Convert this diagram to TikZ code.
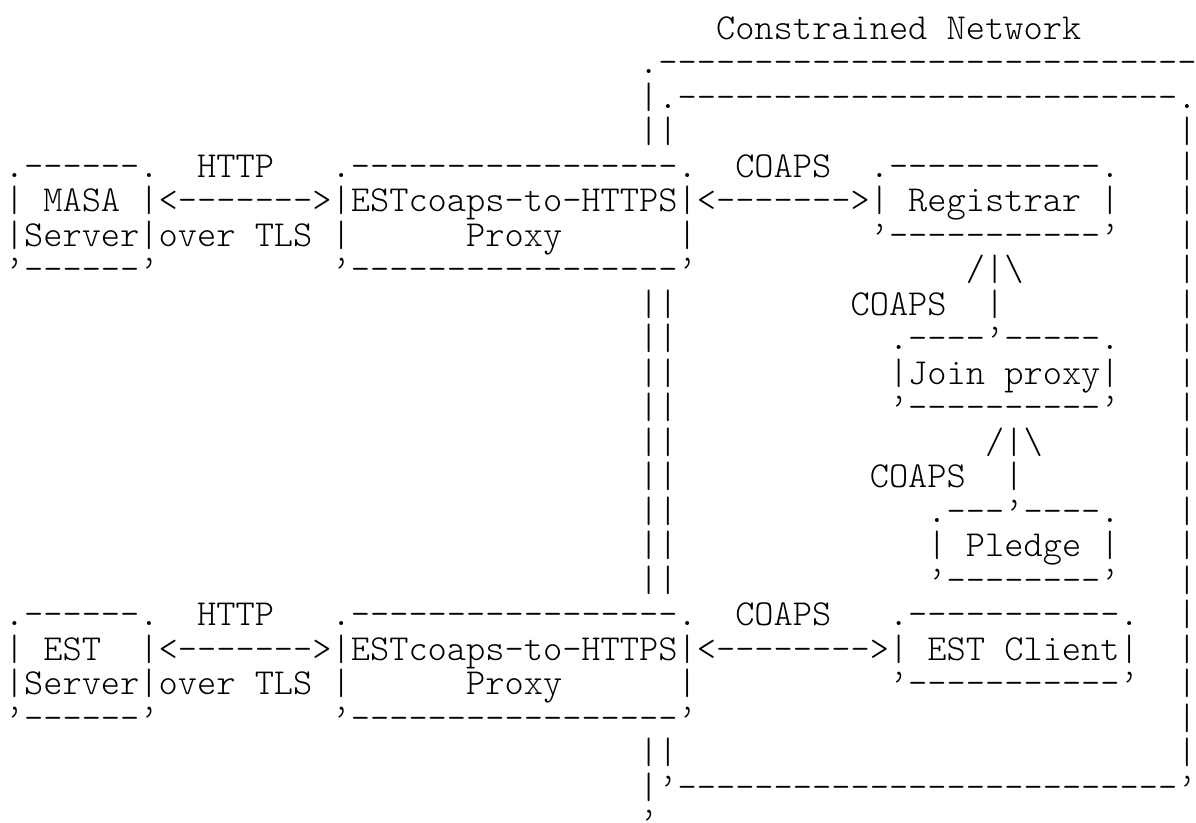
\documentclass[tikz,border=0pt]{standalone}
\usepackage{tikz}
\newlength\cwd
\newcount\dcnt
% n hyphens, kept apart so that no ligature forms
\newcommand\D[1]{\dcnt=#1\relax\loop-\kern0pt\advance\dcnt by -1\relax\ifnum\dcnt>0\repeat}
\newcommand\bs{\textbackslash}
\newcommand\R[4]{\node[asc] (#1) at ({4.9+19.22*#3},{39.5+34.5*#2}) {#4};}
\begin{document}
\settowidth{\cwd}{\fontsize{20pt}{20pt}\ttfamily\fontseries{l}\selectfont M}%
\pgfmathsetmacro\ascsz{20*9.61/\cwd}%
\begin{tikzpicture}[x=0.5pt,y=-0.5pt]
\tikzset{asc/.style={font=\fontsize{\ascsz pt}{\ascsz pt}\ttfamily\fontseries{l}\selectfont\frenchspacing,
  inner sep=0pt, outer sep=0pt, anchor=base west, text=black}}
\fill[white] (0,0) rectangle (1196,823);
\useasboundingbox (0,0) rectangle (1196,823);
% row 0-3: constrained network border (top)
\R{title}{0}{37}{Constrained~Network}
\R{cnTop}{1}{33}{.\D{28}}
\R{cnIn}{2}{33}{|.\D{26}.}
\R{v3}{3}{33}{||}
\R{e3}{3}{61}{|}
% rows 4-7: MASA / proxy / registrar
\R{masaTop}{4}{0}{.\D{6}.}
\R{http1}{4}{10}{HTTP}
\R{pxTop}{4}{17}{.\D{17}.}
\R{coaps1}{4}{38}{COAPS}
\R{regTop}{4}{45}{.\D{11}.}
\R{e4}{4}{61}{|}
\R{row5}{5}{0}{|~MASA~|<\D{7}>|ESTcoaps-to-HTTPS|<\D{7}>|~Registrar~|}
\R{e5}{5}{61}{|}
\R{row6}{6}{0}{|Server|over~TLS~|~~~~~~Proxy~~~~~~|}
\R{regBot}{6}{45}{’\D{11}’}
\R{e6}{6}{61}{|}
\R{masaBot}{7}{0}{’\D{6}’}
\R{pxBot}{7}{17}{’\D{17}’}
\R{arr1}{7}{50}{/|\bs}
\R{e7}{7}{61}{|}
% rows 8-16: join proxy and pledge
\R{v8}{8}{33}{||}
\R{coaps2}{8}{44}{COAPS}
\R{l8}{8}{51}{|}
\R{e8}{8}{61}{|}
\R{v9}{9}{33}{||}
\R{jpTop}{9}{46}{.\D{4}’\D{5}.}
\R{e9}{9}{61}{|}
\R{v10}{10}{33}{||}
\R{jp}{10}{46}{|Join~proxy|}
\R{e10}{10}{61}{|}
\R{v11}{11}{33}{||}
\R{jpBot}{11}{46}{’\D{10}’}
\R{e11}{11}{61}{|}
\R{v12}{12}{33}{||}
\R{arr2}{12}{51}{/|\bs}
\R{e12}{12}{61}{|}
\R{v13}{13}{33}{||}
\R{coaps3}{13}{45}{COAPS}
\R{l13}{13}{52}{|}
\R{e13}{13}{61}{|}
\R{v14}{14}{33}{||}
\R{plTop}{14}{48}{.\D{3}’\D{4}.}
\R{e14}{14}{61}{|}
\R{v15}{15}{33}{||}
\R{pl}{15}{48}{|~Pledge~|}
\R{e15}{15}{61}{|}
\R{v16}{16}{33}{||}
\R{plBot}{16}{48}{’\D{8}’}
\R{e16}{16}{61}{|}
% rows 17-20: EST server / proxy / EST client
\R{estTop}{17}{0}{.\D{6}.}
\R{http2}{17}{10}{HTTP}
\R{px2Top}{17}{17}{.\D{17}.}
\R{coaps4}{17}{38}{COAPS}
\R{clTop}{17}{46}{.\D{11}.}
\R{e17}{17}{61}{|}
\R{row18}{18}{0}{|~EST~~|<\D{7}>|ESTcoaps-to-HTTPS|<\D{8}>|~EST~Client|}
\R{e18}{18}{61}{|}
\R{row19}{19}{0}{|Server|over~TLS~|~~~~~~Proxy~~~~~~|}
\R{clBot}{19}{46}{’\D{11}’}
\R{e19}{19}{61}{|}
\R{estBot}{20}{0}{’\D{6}’}
\R{px2Bot}{20}{17}{’\D{17}’}
\R{e20}{20}{61}{|}
% rows 21-23: bottom of the border
\R{v21}{21}{33}{||}
\R{e21}{21}{61}{|}
\R{cnBot}{22}{33}{|’\D{26}’}
\R{cnEnd}{23}{33}{’}
\end{tikzpicture}
\end{document}
